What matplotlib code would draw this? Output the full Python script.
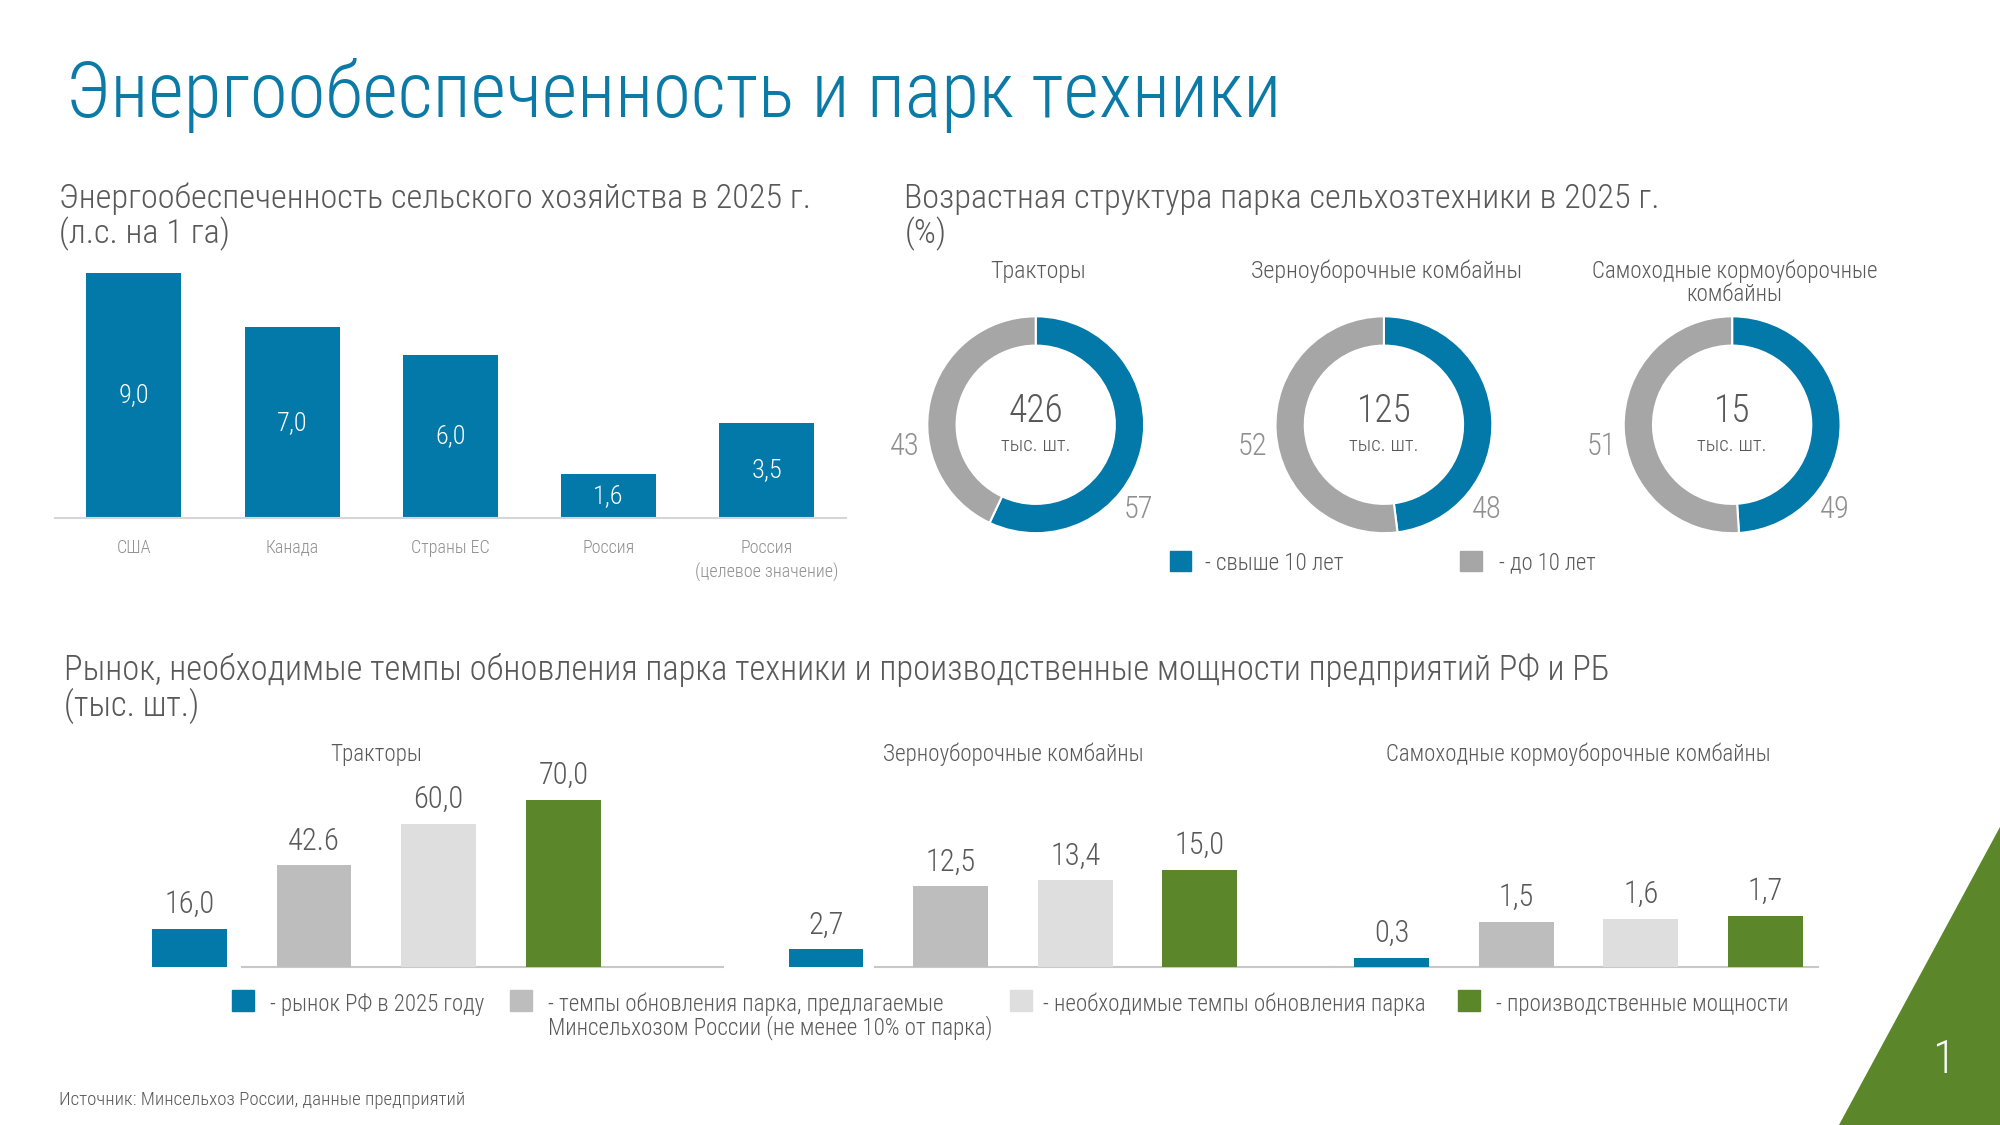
import matplotlib
matplotlib.use('Agg')
import matplotlib.pyplot as plt
from matplotlib import font_manager
from matplotlib.patches import Rectangle, Polygon

# ---- data ----
power_countries = ['США', 'Канада', 'Страны ЕС', 'Россия', 'Россия\n(целевое значение)']
power_values = [9.0, 7.0, 6.0, 1.6, 3.5]

age_titles = ['Тракторы', 'Зерноуборочные комбайны', 'Самоходные кормоуборочные\nкомбайны']
age_fleet = [426, 125, 15]
age_over10 = [57, 48, 49]
age_under10 = [43, 52, 51]
age_legend = ['- свыше 10 лет', '- до 10 лет']

market_groups = ['Тракторы', 'Зерноуборочные комбайны', 'Самоходные кормоуборочные комбайны']
market_rf = [16.0, 2.7, 0.3]
market_min = [42.6, 12.5, 1.5]
market_need = [60.0, 13.4, 1.6]
market_capacity = [70.0, 15.0, 1.7]
market_min_text = ['42.6', '12,5', '1,5']
market_legend = ['- рынок РФ в 2025 году',
                 '- темпы обновления парка, предлагаемые\nМинсельхозом России (не менее 10% от парка)',
                 '- необходимые темпы обновления парка',
                 '- производственные мощности']
market_ymax = [84.5, 31.2, 6.7]

BLUE = '#0279a8'
TITLE = '#0b7aa6'
DONUT_GRAY = '#a6a6a6'
MID_GRAY = '#bdbdbd'
LIGHT_GRAY = '#dedede'
GREEN = '#5b872a'
TEXT = '#595959'
SOFT = '#8f8f8f'
LINE = '#d6d6d6'

names = {f.name for f in font_manager.fontManager.ttflist}
font = next(n for n in ['Roboto Condensed', 'Liberation Sans Narrow', 'Roboto', 'DejaVu Sans'] if n in names)
plt.rcParams['font.family'] = [font, 'DejaVu Sans']
plt.rcParams['font.weight'] = 'light'

W, H = 1568, 882  # layout units

fig = plt.figure(figsize=(20, 11.25), dpi=100)
renderer = fig.canvas.get_renderer()


def fx(x):
    return x / W


def fy(y):
    return 1 - y / H


def fmt(v):
    return f'{v:.1f}'.replace('.', ',')


def label(x, y, s, size, fit=None, **kw):
    # fit: wanted width in layout units; size is scaled to it (at most +15%)
    kw.setdefault('color', TEXT)
    kw.setdefault('va', 'baseline')
    t = fig.text(fx(x), fy(y), s, fontsize=size, **kw)
    if fit:
        w = t.get_window_extent(renderer).width * W / 2000
        t.set_fontsize(size * min(fit / w, 1.15))
    return t


# title
label(52, 92, 'Энергообеспеченность и парк техники', 66, fit=952, color=TITLE)

# ---- power supply bars ----
t = label(46, 163, 'Энергообеспеченность сельского хозяйства в 2025 г.', 25, fit=590)
label(46, 191, '(л.с. на 1 га)', t.get_fontsize())

ax = fig.add_axes([fx(43), fy(406), (663 - 43) / W, (406 - 214) / H])
x = range(len(power_values))
ax.bar(x, power_values, width=0.6, color=BLUE)
for i, v in enumerate(power_values):
    ax.text(i, v / 2, fmt(v), ha='center', va='center', color='white', fontsize=19)
ax.set_xlim(-0.5, 4.5)
ax.set_ylim(0, 9)
ax.set_xticks(list(x))
ax.set_xticklabels(power_countries, fontsize=13, color=SOFT, linespacing=1.45)
ax.tick_params(axis='x', length=0, pad=15)
ax.set_yticks([])
for s in ['top', 'left', 'right']:
    ax.spines[s].set_visible(False)
ax.spines['bottom'].set_color(LINE)
ax.spines['bottom'].set_linewidth(1.5)
ax.patch.set_visible(False)

# ---- age structure donuts ----
t = label(709, 163, 'Возрастная структура парка сельхозтехники в 2025 г.', 25, fit=592)
label(709, 191, '(%)', t.get_fontsize())

R = 85
for i, cx in enumerate([812, 1085, 1358]):
    ax = fig.add_axes([fx(cx - R), fy(333 + R), 2 * R / W, 2 * R / H])
    ax.pie([age_over10[i], age_under10[i]], colors=[BLUE, DONUT_GRAY], startangle=90,
           counterclock=False, radius=1,
           wedgeprops=dict(width=0.27, edgecolor='white', linewidth=1.5))
    ax.set_xlim(-1, 1)
    ax.set_ylim(-1, 1)
    ax.set_aspect('equal')
    ax.axis('off')
    ax.text(0, 0.12, str(age_fleet[i]), ha='center', va='center', fontsize=27, color=TEXT)
    ax.text(0, -0.19, 'тыс. шт.', ha='center', va='center', fontsize=15, color=TEXT)
    ax.text(-1.21, -0.2, str(age_under10[i]), ha='center', va='center', fontsize=22, color=SOFT)
    ax.text(0.95, -0.78, str(age_over10[i]), ha='center', va='center', fontsize=22, color=SOFT)
    size = None
    for k, line in enumerate(age_titles[i].split('\n')):
        t = label(cx + 2, 217.6 + 18.5 * k, line, size or 15, fit=None if size else 224, ha='center')
        size = t.get_fontsize()

for (sx, tx), txt, c in zip([(917, 945), (1145, 1175)], age_legend, [BLUE, DONUT_GRAY]):
    fig.add_artist(Rectangle((fx(sx), fy(448)), 17 / W, 16 / H, color=c, transform=fig.transFigure))
    label(tx, 447, txt, 15, fit=109 if txt == age_legend[0] else 76)

# ---- market bars ----
t = label(50, 533, 'Рынок, необходимые темпы обновления парка техники и производственные '
                   'мощности предприятий РФ и РБ', 23, fit=1218)
label(50, 561, '(тыс. шт.)', t.get_fontsize())

step = 97.7
colors = [BLUE, MID_GRAY, LIGHT_GRAY, GREEN]
lines = [(190, 567), (686, 1042), (1042, 1425)]
for g, x0 in enumerate([148.5, 647.5, 1091]):
    left = x0 - step / 2
    ax = fig.add_axes([fx(left), fy(758), 4 * step / W, (758 - 600) / H])
    vals = [market_rf[g], market_min[g], market_need[g], market_capacity[g]]
    texts = [fmt(market_rf[g]), market_min_text[g], fmt(market_need[g]), fmt(market_capacity[g])]
    ax.bar(range(4), vals, width=0.6, color=colors, zorder=2)
    for i, v in enumerate(vals):
        ax.annotate(texts[i], (i, v), xytext=(0, 7), textcoords='offset points',
                    ha='center', va='bottom', fontsize=22, color=TEXT)
    a, b = lines[g]
    ax.axhline(0, xmin=(a - left) / (4 * step), xmax=(b - left) / (4 * step),
               color='#c8c8c8', lw=1.5, clip_on=False, zorder=1)
    ax.set_xlim(-0.5, 3.5)
    ax.set_ylim(0, market_ymax[g])
    ax.axis('off')
    widths = [72, 205, 302]
    label(x0 + 1.5 * step, 597, market_groups[g], 15, fit=widths[g], ha='center')

legend_pos = [(182, 212, 169), (400, 430, 312), (792, 818, 302), (1143, 1173, 230)]
for (sx, tx, wmax), txt, c in zip(legend_pos, market_legend, colors):
    fig.add_artist(Rectangle((fx(sx), fy(793)), 17 / W, 17 / H, color=c, transform=fig.transFigure))
    if '\n' in txt:
        first, second = txt.split('\n')
        t = label(tx, 793, first, 15, fit=wmax)
        label(tx, 811, second, t.get_fontsize())
    else:
        label(tx, 793, txt, 15, fit=wmax)

label(46, 866, 'Источник: Минсельхоз России, данные предприятий', 14, fit=319)

# corner decoration and page number
fig.add_artist(Polygon([(1.0, fy(648)), (1.0, 0.0), (fx(1442), 0.0)], closed=True,
                       color=GREEN, transform=fig.transFigure))
label(1524, 841, '1', 34, color='white', ha='center')

fig.savefig('out.png', dpi=100, facecolor='white')
